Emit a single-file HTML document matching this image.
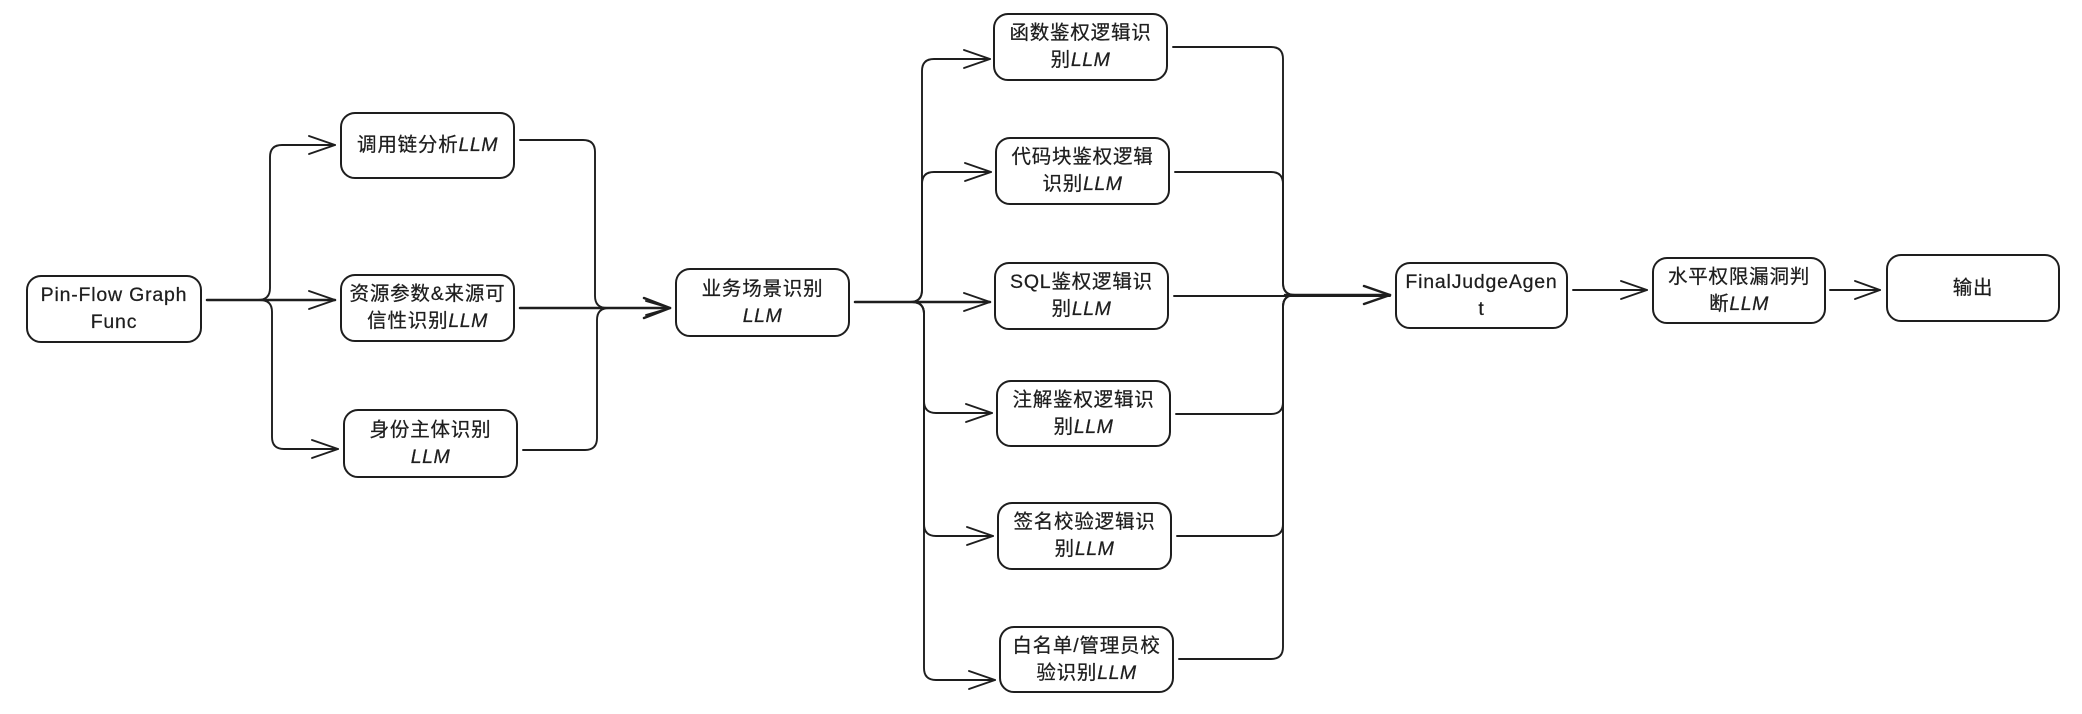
<!DOCTYPE html>
<html>
<head>
<meta charset="utf-8">
<style>
  html,body{margin:0;padding:0;}
  body{width:2082px;height:714px;position:relative;overflow:hidden;background:#ffffff;
    font-family:"Liberation Sans","Noto Sans CJK SC",sans-serif;color:#1e1e1e;}
  .b{position:absolute;box-sizing:border-box;border:2px solid #1e1e1e;border-radius:15px;
    display:flex;align-items:center;justify-content:center;text-align:center;
    font-size:19.5px;line-height:27px;letter-spacing:0.8px;background:transparent;
    -webkit-text-stroke:0.25px #1e1e1e;}
  .l{font-style:italic;letter-spacing:0.5px;}
  svg{position:absolute;left:0;top:0;}
  path{fill:none;stroke:#1e1e1e;stroke-width:1.9;stroke-linecap:round;stroke-linejoin:round;}
  .thick{stroke-width:2.5;}
</style>
</head>
<body>
<svg width="2082" height="714" viewBox="0 0 2082 714">
  <!-- Pin-Flow fan-out -->
  <path d="M207,300 H258 Q270,300 270,288 V157 Q270,145 282,145 H335"/>
  <path d="M309,136 L335,145 L309,154"/>
  <path class="thick" d="M207,300 H335"/>
  <path d="M309,291 L335,300 L309,309"/>
  <path d="M207,300 H260 Q272,300 272,312 V437 Q272,449 284,449 H338"/>
  <path d="M312,440 L338,449 L312,458"/>

  <!-- merge into 业务场景 -->
  <path d="M520,140 H583 Q595,140 595,152 V296 Q595,308 607,308 H670"/>
  <path class="thick" d="M520,308 H670"/>
  <path d="M523,450 H585 Q597,450 597,438 V320 Q597,308 609,308 H670"/>
  <path class="thick" d="M644,298 L670,308 L644,318"/>
  <path d="M646,301 L670,308 L646,315"/>

  <!-- 业务场景 fan-out -->
  <path d="M855,302 H910 Q922,302 922,290 V71 Q922,59 934,59 H990"/>
  <path d="M964,50 L990,59 L964,68"/>
  <path d="M855,302 H910 Q922,302 922,290 V184 Q922,172 934,172 H991"/>
  <path d="M965,163 L991,172 L965,181"/>
  <path class="thick" d="M855,302 H990"/>
  <path d="M964,293 L990,302 L964,311"/>
  <path d="M855,302 H912 Q924,302 924,314 V401 Q924,413 936,413 H992"/>
  <path d="M966,404 L992,413 L966,422"/>
  <path d="M855,302 H912 Q924,302 924,314 V524 Q924,536 936,536 H993"/>
  <path d="M967,527 L993,536 L967,545"/>
  <path d="M855,302 H912 Q924,302 924,314 V668 Q924,680 936,680 H995"/>
  <path d="M969,671 L995,680 L969,689"/>

  <!-- merge into FinalJudgeAgent -->
  <path d="M1173,47 H1271 Q1283,47 1283,59 V283 Q1283,295 1295,295 H1390"/>
  <path d="M1175,172 H1271 Q1283,172 1283,184 V283 Q1283,295 1295,295 H1390"/>
  <path d="M1174,296 H1390"/>
  <path d="M1176,414 H1271 Q1283,414 1283,402 V307 Q1283,295 1295,295 H1390"/>
  <path d="M1177,536 H1271 Q1283,536 1283,524 V307 Q1283,295 1295,295 H1390"/>
  <path d="M1179,659 H1271 Q1283,659 1283,647 V307 Q1283,295 1295,295 H1390"/>
  <path class="thick" d="M1285,295 H1390"/>
  <path class="thick" d="M1364,286 L1390,295 L1364,304"/>

  <!-- FinalJudge -> 水平 -->
  <path d="M1573,290 H1647"/>
  <path d="M1621,281 L1647,290 L1621,299"/>
  <!-- 水平 -> 输出 -->
  <path d="M1830,290 H1880"/>
  <path d="M1855,281 L1880,290 L1855,299"/>
</svg>

<div class="b" style="left:26px;top:275px;width:176px;height:68px;">Pin-Flow Graph<br>Func</div>
<div class="b" style="left:340px;top:112px;width:175px;height:67px;"><span>调用链分析<span class="l">LLM</span></span></div>
<div class="b" style="left:340px;top:274px;width:175px;height:68px;"><span>资源参数&amp;来源可<br>信性识别<span class="l">LLM</span></span></div>
<div class="b" style="left:343px;top:409px;width:175px;height:69px;"><span>身份主体识别<br><span class="l">LLM</span></span></div>
<div class="b" style="left:675px;top:268px;width:175px;height:69px;"><span>业务场景识别<br><span class="l">LLM</span></span></div>

<div class="b" style="left:993px;top:13px;width:175px;height:68px;"><span>函数鉴权逻辑识<br>别<span class="l">LLM</span></span></div>
<div class="b" style="left:995px;top:137px;width:175px;height:68px;"><span>代码块鉴权逻辑<br>识别<span class="l">LLM</span></span></div>
<div class="b" style="left:994px;top:262px;width:175px;height:68px;"><span>SQL鉴权逻辑识<br>别<span class="l">LLM</span></span></div>
<div class="b" style="left:996px;top:380px;width:175px;height:67px;"><span>注解鉴权逻辑识<br>别<span class="l">LLM</span></span></div>
<div class="b" style="left:997px;top:502px;width:175px;height:68px;"><span>签名校验逻辑识<br>别<span class="l">LLM</span></span></div>
<div class="b" style="left:999px;top:626px;width:175px;height:67px;"><span>白名单/管理员校<br>验识别<span class="l">LLM</span></span></div>

<div class="b" style="left:1395px;top:262px;width:173px;height:67px;"><span>FinalJudgeAgen<br>t</span></div>
<div class="b" style="left:1652px;top:257px;width:174px;height:67px;"><span>水平权限漏洞判<br>断<span class="l">LLM</span></span></div>
<div class="b" style="left:1886px;top:254px;width:174px;height:68px;"><span>输出</span></div>
</body>
</html>
